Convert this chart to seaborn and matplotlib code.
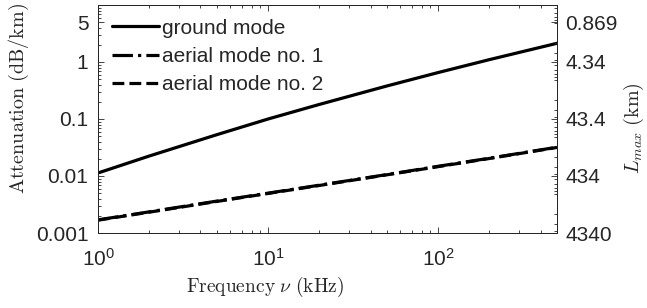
import numpy as np
import pandas as pd
import matplotlib
matplotlib.use('Agg')
import matplotlib.pyplot as plt
import seaborn as sns
from matplotlib.ticker import FixedLocator, FixedFormatter, NullFormatter, LogLocator

# Attenuation values (dB/km vs kHz)
freq_khz = [1, 2, 5, 10, 20, 50, 100, 200, 500]
ground_mode = [0.0113, 0.0224, 0.0531, 0.100, 0.180, 0.380, 0.653, 1.10, 2.13]
aerial_mode_1 = [0.0017, 0.00235, 0.00363, 0.0050, 0.0069, 0.0106, 0.0148, 0.0205, 0.032]
aerial_mode_2 = [0.00168, 0.00232, 0.00358, 0.00494, 0.00682, 0.0105, 0.0146, 0.0203, 0.0317]

att_ticks = [0.001, 0.01, 0.1, 1, 5]
att_tick_labels = ['0.001', '0.01', '0.1', '1', '5']
lmax_tick_labels = ['4340', '434', '43.4', '4.34', '0.869']
freq_ticks = [1, 10, 100]
freq_tick_labels = ['$10^{0}$', '$10^{1}$', '$10^{2}$']

# L_max = 10/ln(10) / attenuation
db_per_neper = 10 / np.log(10)

sns.set_style('ticks')
plt.rcParams['font.family'] = ['Liberation Sans', 'DejaVu Sans']
plt.rcParams['mathtext.fontset'] = 'custom'
plt.rcParams['mathtext.rm'] = 'Liberation Sans'
plt.rcParams['mathtext.it'] = 'Liberation Sans:italic'
plt.rcParams['font.size'] = 15

dark = '#262626'

fig = plt.figure(figsize=(6.47, 3.08), dpi=100)
ax = fig.add_axes([0.1515, 0.2435, 0.7095, 0.7403])

sns.lineplot(x=freq_khz, y=ground_mode, ax=ax, color='k', lw=2.3, label='ground mode')
sns.lineplot(x=freq_khz, y=aerial_mode_1, ax=ax, color='k', lw=2.3, linestyle='-.',
             label='aerial mode no. 1')
sns.lineplot(x=freq_khz, y=aerial_mode_2, ax=ax, color='k', lw=2.3, linestyle='--',
             label='aerial mode no. 2')

ax.set_xscale('log')
ax.set_yscale('log')
ax.set_xlim(1, 500)
ax.set_ylim(0.001, 10)

ax.xaxis.set_major_locator(FixedLocator(freq_ticks))
ax.xaxis.set_major_formatter(FixedFormatter(freq_tick_labels))
ax.xaxis.set_minor_locator(LogLocator(base=10, subs=np.arange(2, 10)))
ax.xaxis.set_minor_formatter(NullFormatter())
ax.yaxis.set_major_locator(FixedLocator(att_ticks))
ax.yaxis.set_major_formatter(FixedFormatter(att_tick_labels))
ax.yaxis.set_minor_locator(LogLocator(base=10, subs=np.arange(2, 10)))
ax.yaxis.set_minor_formatter(NullFormatter())

ax.tick_params(which='both', direction='in', top=True, right=False, colors=dark,
               labelsize=15, width=0.6)
ax.tick_params(which='major', length=4.5)
ax.tick_params(which='minor', length=2.5)
ax.tick_params(axis='y', pad=7)
ax.tick_params(axis='x', pad=11)
for s in ax.spines.values():
    s.set_color(dark)
    s.set_linewidth(0.7)

ax.set_xlabel(r'$\mathrm{Frequency}\ \nu\ \mathrm{(kHz)}$', math_fontfamily='cm',
              fontsize=14, color=dark)
ax.xaxis.set_label_coords(0.364, -0.185)
ax.set_ylabel(r'$\mathrm{Attenuation\ (dB/km)}$', math_fontfamily='cm',
              fontsize=14.5, color=dark)
ax.yaxis.set_label_coords(-0.145, 0.59)

# right axis: maximum length, inverted log scale
ax2 = ax.twinx()
ax2.set_yscale('log')
ax2.set_ylim(db_per_neper / 0.001, db_per_neper / 10)
lmax_ticks = [db_per_neper / a for a in att_ticks]
ax2.yaxis.set_major_locator(FixedLocator(lmax_ticks))
ax2.yaxis.set_major_formatter(FixedFormatter(lmax_tick_labels))
ax2.yaxis.set_minor_locator(LogLocator(base=10, subs=np.arange(2, 10)))
ax2.yaxis.set_minor_formatter(NullFormatter())
ax2.tick_params(which='both', direction='in', colors=dark, labelsize=15, width=0.6, pad=6)
ax2.tick_params(which='major', length=4.5)
ax2.tick_params(which='minor', length=2.5)
for s in ax2.spines.values():
    s.set_color(dark)
    s.set_linewidth(0.7)
ax2.set_ylabel(r'$L_{max}\ \mathrm{(km)}$', math_fontfamily='cm', fontsize=14.5,
               color=dark)
ax2.yaxis.set_label_coords(1.142, 0.46)

ax.legend(loc='upper left', frameon=False, fontsize=15, handlelength=2.3,
          handletextpad=0.1, labelspacing=0.45, borderaxespad=0.35, borderpad=0.3)

fig.savefig('out.png', dpi=100)
